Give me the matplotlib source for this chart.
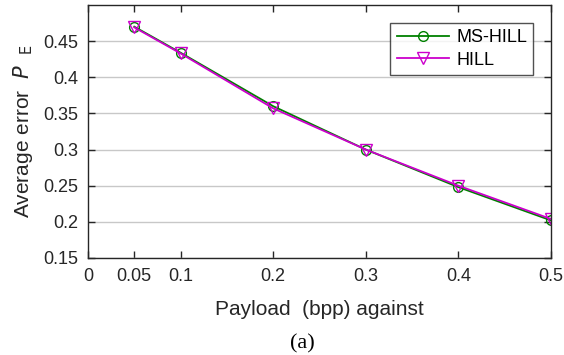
import matplotlib
matplotlib.use("Agg")
import matplotlib.pyplot as plt

payload = [0.05, 0.1, 0.2, 0.3, 0.4, 0.5]
ms_hill = [0.470, 0.434, 0.360, 0.300, 0.248, 0.202]
hill = [0.469, 0.433, 0.357, 0.300, 0.250, 0.204]
xticks = [0, 0.05, 0.1, 0.2, 0.3, 0.4, 0.5]
xticklabels = ["0", "0.05", "0.1", "0.2", "0.3", "0.4", "0.5"]
yticks = [0.15, 0.2, 0.25, 0.3, 0.35, 0.4, 0.45]
yticklabels = ["0.15", "0.2", "0.25", "0.3", "0.35", "0.4", "0.45"]

plt.rcParams['font.family'] = ['Liberation Sans', 'DejaVu Sans']

fig = plt.figure(figsize=(5.64, 3.55), dpi=100)
ax = fig.add_axes([88/564, 1 - 258/355, (551 - 88)/564, (258 - 5)/355])

ax.plot(payload, ms_hill, color='#008000', marker='o', markersize=7,
        markerfacecolor='none', markeredgewidth=1.0, linewidth=1.3, label='MS-HILL')
ax.plot(payload, hill, color='#cc00cc', marker='v', markersize=8,
        markerfacecolor='none', markeredgewidth=1.0, linewidth=1.3, label='HILL')

ax.set_xlim(0, 0.5)
ax.set_ylim(0.15, 0.5)
ax.set_xticks(xticks)
ax.set_xticklabels(xticklabels, fontsize=13)
ax.set_yticks(yticks)
ax.set_yticklabels(yticklabels, fontsize=13)
ax.tick_params(direction='in', top=True, right=True, length=5, width=1.0,
               colors='#262626', labelcolor='#262626', pad=7)
ax.yaxis.grid(True, color='#c8c8c8', linewidth=1.0)
ax.set_axisbelow(True)
for s in ax.spines.values():
    s.set_color('#262626')
    s.set_linewidth(1.0)

ax.set_xlabel('Payload  (bpp) against', fontsize=15, color='#262626', labelpad=11)
ax.set_ylabel(r'Average error  $P$  $_{\mathrm{E}}$', fontsize=15, color='#262626', labelpad=6)

leg = ax.legend(loc='upper right', bbox_to_anchor=(0.962, 0.929), fontsize=13,
                frameon=True, fancybox=False, edgecolor='#262626',
                handlelength=2.9, handletextpad=0.4, borderpad=0.35,
                labelspacing=0.3, borderaxespad=0)
leg.get_frame().set_linewidth(1.0)

fig.text(302/564, 2/355, '(a)', ha='center', va='bottom', fontsize=16,
         family=['Liberation Serif', 'DejaVu Serif'])

fig.savefig('out.png', dpi=100)
